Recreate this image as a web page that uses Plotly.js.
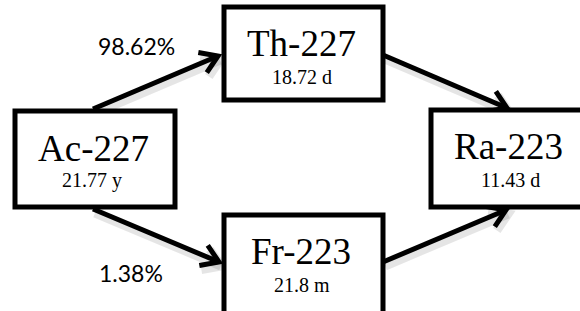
<!DOCTYPE html>
<html>
<head>
<meta charset="utf-8">
<script src="https://cdn.plot.ly/plotly-3.0.1.min.js"></script>
<style>html,body{margin:0;padding:0;background:#fff;}#chart{width:580px;height:311px;}</style>
</head>
<body>
<div id="chart"></div>
<script>
// ---- data ----
const nuclides = ['Ac-227', 'Th-227', 'Fr-223', 'Ra-223'];
const halfLives = ['21.77 y', '18.72 d', '21.8 m', '11.43 d'];
const branchRatios = ['98.62%', '1.38%'];
const linkFrom = [0, 0, 1, 2];
const linkTo = [1, 2, 3, 3];

// ---- layout positions (pixel-like plot coordinates, y downward) ----
const boxX0 = [15, 224, 224, 431];
const boxX1 = [175, 383, 383, 588];
const boxY0 = [111, 7, 215, 110];
const boxY1 = [207, 100, 320, 207];
const nameX = [93, 301, 301, 508];
const nameY = [148, 43, 251, 146];
const lifeX = [92, 302, 302, 510];
const lifeY = [180, 77, 285, 180];
const arrowX0 = [93, 93, 383, 383];
const arrowY0 = [109, 209, 55, 262];
const arrowX1 = [218, 219, 507, 506];
const arrowY1 = [56, 262, 108, 210];
const branchX = [136, 131];
const branchY = [46, 273];

const serif = 'Liberation Serif';
const traces = [];
const headLen = 20, headAng = 33 * Math.PI / 180;
function arrowPath(i, dx, dy) {
  const x0 = arrowX0[i] + dx, y0 = arrowY0[i] + dy, x1 = arrowX1[i] + dx, y1 = arrowY1[i] + dy;
  const back = Math.atan2(y0 - y1, x0 - x1);
  const ax = x1 + headLen * Math.cos(back + headAng), ay = y1 + headLen * Math.sin(back + headAng);
  const bx = x1 + headLen * Math.cos(back - headAng), by = y1 + headLen * Math.sin(back - headAng);
  return {x: [x0, x1, null, ax, x1, bx], y: [y0, y1, null, ay, y1, by]};
}
// soft shadows
for (let i = 0; i < linkFrom.length; i++) {
  const p = arrowPath(i, 2, 4);
  traces.push({type: 'scatter', mode: 'lines', x: p.x, y: p.y, hoverinfo: 'skip',
    line: {color: 'rgba(0,0,0,0.10)', width: 9}, showlegend: false});
}
for (let i = 0; i < linkFrom.length; i++) {
  const p = arrowPath(i, 0, 0);
  traces.push({type: 'scatter', mode: 'lines', x: p.x, y: p.y, hoverinfo: 'skip',
    line: {color: '#000', width: 5}, showlegend: false});
}

const shapes = nuclides.map((n, i) => ({
  type: 'rect', xref: 'x', yref: 'y',
  x0: boxX0[i], x1: boxX1[i], y0: boxY0[i], y1: boxY1[i],
  line: {color: '#000', width: 5}, fillcolor: '#fff', layer: 'above'
}));

const annotations = [];
nuclides.forEach((n, i) => {
  annotations.push({x: nameX[i], y: nameY[i], xref: 'x', yref: 'y', text: n, showarrow: false,
    xanchor: 'center', yanchor: 'middle', font: {family: serif, size: 37, color: '#000'}});
  annotations.push({x: lifeX[i], y: lifeY[i], xref: 'x', yref: 'y', text: halfLives[i], showarrow: false,
    xanchor: 'center', yanchor: 'middle', font: {family: serif, size: 20, color: '#000'}});
});
branchRatios.forEach((b, i) => {
  annotations.push({x: branchX[i], y: branchY[i], xref: 'x', yref: 'y', text: b, showarrow: false,
    xanchor: 'center', yanchor: 'middle', font: {family: 'Lato', size: 23, color: '#000'}});
});

const layout = {
  width: 580, height: 311,
  font: {family: 'Liberation Serif'},
  margin: {l: 0, r: 0, t: 0, b: 0},
  paper_bgcolor: '#fff', plot_bgcolor: '#fff',
  xaxis: {range: [0, 580], visible: false, fixedrange: true},
  yaxis: {range: [311, 0], visible: false, fixedrange: true},
  shapes: shapes, annotations: annotations, showlegend: false
};
Plotly.newPlot('chart', traces, layout, {displayModeBar: false, staticPlot: true});
</script>
</body>
</html>
